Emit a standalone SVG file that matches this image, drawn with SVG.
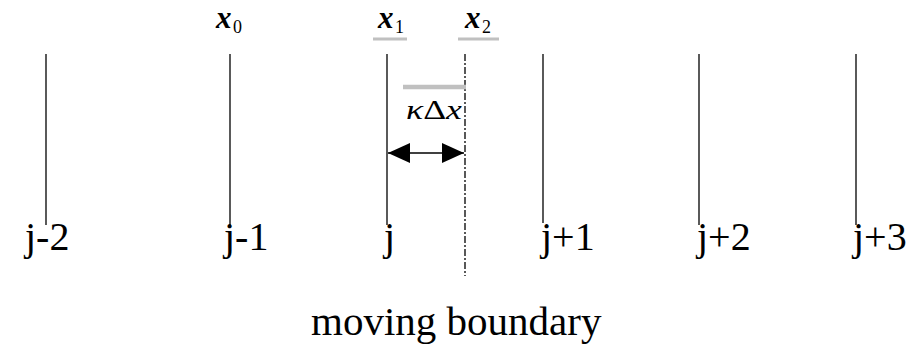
<svg xmlns="http://www.w3.org/2000/svg" width="913" height="344" viewBox="0 0 913 344">
<style>
.grid{stroke:#000;stroke-width:1.3;fill:none}
.lbl{font-family:"Liberation Serif","Times New Roman",serif;font-size:40px;fill:#000}
.mb{font-family:"Liberation Serif","Times New Roman",serif;font-size:41px;fill:#000}
.var{font-family:"Liberation Serif","Times New Roman",serif;font-size:31px;font-style:italic;font-weight:bold;fill:#000}
.sub{font-family:"Liberation Serif","Times New Roman",serif;font-size:18px;fill:#000}
.bar{stroke:#c0c0c0;fill:none}
</style>
<defs>
<marker id="ah" viewBox="0 0 22 20" refX="22" refY="10" markerWidth="22" markerHeight="20" markerUnits="userSpaceOnUse" orient="auto-start-reverse">
<path d="M0,0 L22,10 L0,20 Z" fill="#000"/>
</marker>
</defs>
<g id="connectors">
<line class="grid" x1="46" y1="54" x2="46" y2="225"/>
<line class="grid" x1="230" y1="54" x2="230" y2="225"/>
<line class="grid" x1="387" y1="54" x2="387" y2="225"/>
<line class="grid" x1="543" y1="54" x2="543" y2="223"/>
<line class="grid" x1="699" y1="54" x2="699" y2="225"/>
<line class="grid" x1="856" y1="54" x2="856" y2="225"/>
<line x1="465" y1="54" x2="465" y2="276" stroke="#000" stroke-width="1.3" stroke-dasharray="7,2,2,2"/>
<line x1="388" y1="153" x2="464" y2="153" stroke="#000" stroke-width="1.5" marker-start="url(#ah)" marker-end="url(#ah)"/>
</g>
<g id="node-x0"><text class="var" x="216" y="27.5">x</text><text class="sub" x="233" y="33">0</text></g>
<g id="node-x1"><text class="var" x="378" y="27.5">x</text><text class="sub" x="395" y="33">1</text><line class="bar" x1="373" y1="39" x2="407" y2="39" stroke-width="3"/></g>
<g id="node-x2"><text class="var" x="465" y="27.5">x</text><text class="sub" x="482" y="33">2</text><line class="bar" x1="458" y1="39" x2="499" y2="39" stroke-width="3"/></g>
<g id="node-kdx"><line class="bar" x1="403" y1="87" x2="466" y2="87" stroke-width="4.5"/><text x="406" y="119" font-family="Liberation Serif, Times New Roman, serif" font-size="28" font-style="italic" textLength="56" lengthAdjust="spacingAndGlyphs">κ<tspan font-style="normal">Δ</tspan>x</text></g>
<g id="node-jm2"><text class="lbl" x="25" y="250">j-2</text></g>
<g id="node-jm1"><text class="lbl" x="224" y="250">j-1</text></g>
<g id="node-j"><text class="lbl" x="384" y="250">j</text></g>
<g id="node-jp1"><text class="lbl" x="541" y="250">j+1</text></g>
<g id="node-jp2"><text class="lbl" x="697" y="250">j+2</text></g>
<g id="node-jp3"><text class="lbl" x="853" y="250">j+3</text></g>
<g id="node-mb"><text class="mb" x="311" y="335">moving boundary</text></g>
</svg>
